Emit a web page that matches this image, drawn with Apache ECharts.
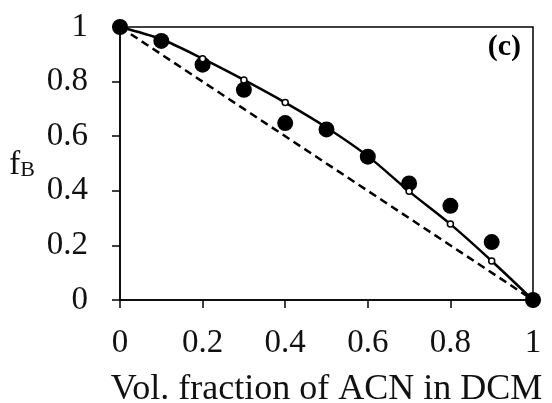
<!DOCTYPE html>
<html><head><meta charset="utf-8">
<script src="https://cdn.jsdelivr.net/npm/echarts@6/dist/echarts.min.js"></script>
<style>html,body{margin:0;padding:0;background:#fff}#c{width:552px;height:403px}</style>
</head><body><div id="c"></div>
<script>
// Vol. fraction of ACN in DCM
var xs = [0, 0.1, 0.2, 0.3, 0.4, 0.5, 0.6, 0.7, 0.8, 0.9, 1];
// experimental f_B (filled dots)
var expF = [1, 0.949, 0.862, 0.77, 0.648, 0.625, 0.525, 0.427, 0.345, 0.212, 0];
// model curve f_B
var modelF = [1, 0.955, 0.884, 0.806, 0.723, 0.632, 0.527, 0.398, 0.278, 0.143, 0];
// model points drawn as small open circles
var modelMarkX = [0.2, 0.3, 0.4, 0.7, 0.8, 0.9];
var modelMarkF = [0.884, 0.806, 0.723, 0.398, 0.278, 0.143];
// ideal (linear) reference
var idealX = [0, 1];
var idealF = [1, 0];
var xTicks = [0, 0.2, 0.4, 0.6, 0.8, 1];
var yTicks = [0, 0.2, 0.4, 0.6, 0.8, 1];

function pairs(a, b) { return a.map(function (v, i) { return [v, b[i]]; }); }
var FONT = '"Liberation Serif", "Times New Roman", serif';
var chart = echarts.init(document.getElementById('c'));
chart.setOption({
  animation: false,
  backgroundColor: '#fff',
  textStyle: { fontFamily: FONT },
  grid: { left: 120, right: 19, top: 27, bottom: 103, show: true, borderColor: '#000', borderWidth: 1.5,
          containLabel: false, outerBoundsMode: 'none' },
  xAxis: {
    type: 'value', min: 0, max: 1, interval: 0.2,
    name: 'Vol. fraction of ACN in DCM', nameLocation: 'middle', nameGap: 72,
    nameTextStyle: { fontFamily: FONT, fontSize: 36, color: '#111' },
    axisLine: { lineStyle: { color: '#000', width: 1.5 } },
    axisTick: { show: true, length: 8, lineStyle: { color: '#000', width: 1.5 } },
    axisLabel: { fontFamily: FONT, fontSize: 33, color: '#111', margin: 27,
      formatter: function (v) { return xTicks.indexOf(v) >= 0 ? String(v) : ''; } },
    splitLine: { show: false }
  },
  yAxis: {
    type: 'value', min: 0, max: 1, interval: 0.2,
    name: '{f|f}{b|B}', nameLocation: 'middle', nameGap: 85, nameRotate: 0,
    nameTextStyle: { rich: {
      f: { fontFamily: FONT, fontSize: 33, color: '#111', verticalAlign: 'bottom' },
      b: { fontFamily: FONT, fontSize: 22, color: '#111', padding: [14, 0, 0, 0], verticalAlign: 'bottom' }
    } },
    axisLine: { lineStyle: { color: '#000', width: 1.5 } },
    axisTick: { show: true, length: 8, lineStyle: { color: '#000', width: 1.5 } },
    axisLabel: { fontFamily: FONT, fontSize: 33, color: '#111', margin: 32,
      formatter: function (v) { return yTicks.indexOf(v) >= 0 ? String(v) : ''; } },
    splitLine: { show: false }
  },
  graphic: [{
    type: 'text', right: 31, top: 32,
    style: { text: '(c)', font: 'bold 30px ' + FONT, fill: '#000' }
  }],
  series: [
    { type: 'line', data: pairs(idealX, idealF), showSymbol: false, symbol: 'none',
      lineStyle: { color: '#000', width: 2.5, type: [8, 5] }, z: 2 },
    { type: 'line', data: pairs(xs, modelF), smooth: 0.3, showSymbol: false, symbol: 'none',
      lineStyle: { color: '#000', width: 2.5 }, z: 3 },
    { type: 'scatter', data: pairs(xs, expF), symbol: 'circle', symbolSize: 16, clip: false,
      itemStyle: { color: '#000', opacity: 1 }, z: 4 },
    { type: 'scatter', data: pairs(modelMarkX, modelMarkF), symbol: 'circle', symbolSize: 6, clip: false,
      itemStyle: { color: '#fff', borderColor: '#000', borderWidth: 1.5, opacity: 1 }, z: 5 }
  ]
});
</script></body></html>
